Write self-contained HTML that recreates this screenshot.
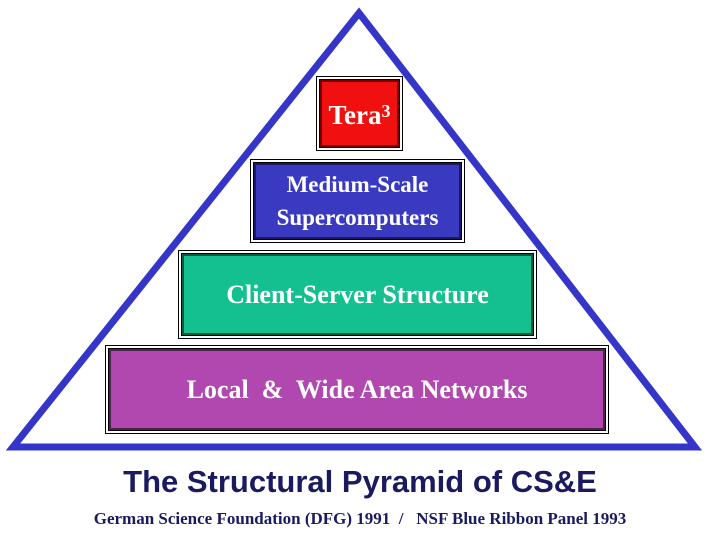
<!DOCTYPE html>
<html><head><style>
body{margin:0;width:720px;height:540px;background:#fff;overflow:hidden;position:relative;font-family:"Liberation Serif",serif}
.b{position:absolute;box-sizing:border-box;border:1px solid #000;padding:2px;background:#fff}
.b>div{width:100%;height:100%;box-sizing:border-box;border:1px solid #000;display:flex;align-items:center;justify-content:center;text-align:center;color:#fff;font-weight:bold}
.t{position:absolute;left:0;width:720px;text-align:center;color:#1a1a60;font-weight:bold}
</style></head><body>
<svg width="720" height="540" style="position:absolute;left:0;top:0">
<polygon points="359,13 13,447 695,447" fill="none" stroke="#3535c8" stroke-width="7" stroke-linejoin="miter"/>
</svg>
<div class="b" style="left:316px;top:76px;width:87px;height:75px"><div style="background:#f01010;box-shadow:inset 0 0 0 2px #700;font-size:27px;padding-top:4px">Tera<sup style="font-size:18px;position:relative;top:-4px">3</sup></div></div>
<div class="b" style="left:250px;top:159px;width:215px;height:84px"><div style="background:#3a3ac0;box-shadow:inset 0 0 0 2px #1a1a60;font-size:23px;line-height:33px">Medium-Scale<br>Supercomputers</div></div>
<div class="b" style="left:178px;top:250px;width:359px;height:89px"><div style="background:#15c090;box-shadow:inset 0 0 0 2px #0a5a40;font-size:26px">Client-Server Structure</div></div>
<div class="b" style="left:105px;top:345px;width:504px;height:89px"><div style="background:#b048b0;box-shadow:inset 0 0 0 2px #502050;font-size:26px;white-space:pre">Local  &amp;  Wide Area Networks</div></div>
<div class="t" style="top:464px;font-family:'Liberation Sans',sans-serif;font-size:31px">The Structural Pyramid of CS&amp;E</div>
<div class="t" style="top:509px;font-size:17px;white-space:pre">German Science Foundation (DFG) 1991  /   NSF Blue Ribbon Panel 1993</div>
</body></html>
